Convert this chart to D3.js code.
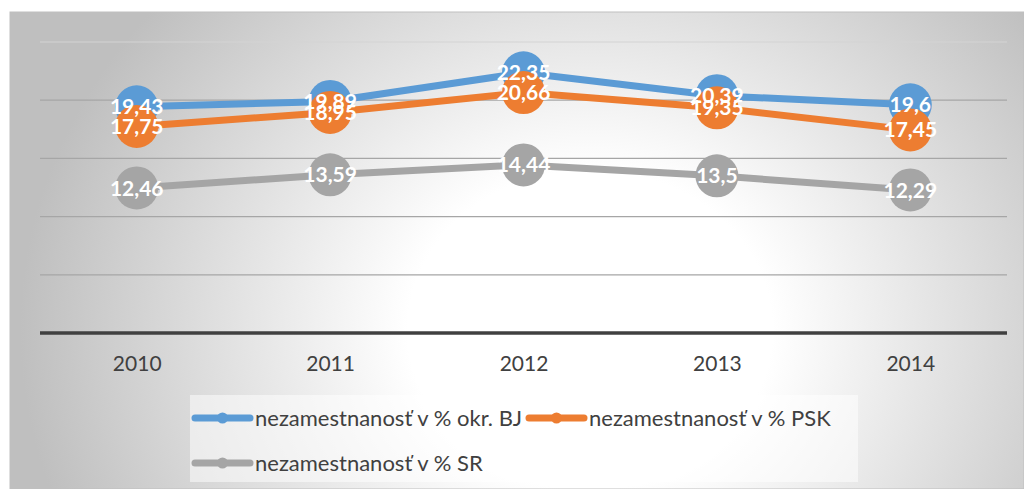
<!DOCTYPE html>
<html>
<head>
<meta charset="utf-8">
<script src="https://cdn.jsdelivr.net/npm/d3@7"></script>
<style>
  body { margin: 0; background: #fff; }
  svg text { font-family: Lato, "Open Sans", sans-serif; }
</style>
</head>
<body>
<div id="chart"></div>
<script>
let years = ['2010', '2011', '2012', '2013', '2014'];
let okrBJ = [19.43, 19.89, 22.35, 20.39, 19.6];
let psk = [17.75, 18.95, 20.66, 19.35, 17.45];
let sr = [12.46, 13.59, 14.44, 13.5, 12.29];
let yTicks = [0, 5, 10, 15, 20, 25];

let seriesNames = ['nezamestnanosť v % okr. BJ', 'nezamestnanosť v % PSK', 'nezamestnanosť v % SR'];
let colors = ['#5b9bd5', '#ed7d31', '#a5a5a5'];

let W = 1024, H = 489;
let margin = {top: 42, right: 17, bottom: 156, left: 40};
let width = W - margin.left - margin.right;
let height = H - margin.top - margin.bottom;

let svg = d3.select('#chart')
    .append('svg')
    .attr('width', W)
    .attr('height', H);

// radial background like the office chart fill
let defs = svg.append('defs');
let grad = defs.append('radialGradient')
    .attr('id', 'bg')
    .attr('gradientUnits', 'userSpaceOnUse')
    .attr('cx', 0).attr('cy', 0).attr('r', 1)
    .attr('gradientTransform', 'translate(590,330) scale(570,500)');
grad.append('stop').attr('offset', '0%').attr('stop-color', '#ffffff');
grad.append('stop').attr('offset', '32%').attr('stop-color', '#ffffff');
grad.append('stop').attr('offset', '100%').attr('stop-color', '#bfbfbf');

svg.append('rect')
    .attr('x', 10).attr('y', 12)
    .attr('width', W - 10).attr('height', 477)
    .attr('fill', 'url(#bg)')
    .attr('stroke', '#bfbfbf')
    .attr('stroke-width', 1);

let g = svg.append('g')
    .attr('transform', 'translate(' + margin.left + ',' + margin.top + ')');

let xScale = d3.scalePoint()
    .domain(years)
    .range([0, width])
    .padding(0.5);

let yScale = d3.scaleLinear()
    .domain([0, 25])
    .range([height, 0]);

// gridlines
g.selectAll('.grid')
    .data(yTicks.filter(function (d) { return d > 0; }))
    .enter()
    .append('line')
    .attr('x1', 0).attr('x2', width)
    .attr('y1', function (d) { return yScale(d); })
    .attr('y2', function (d) { return yScale(d); })
    .attr('stroke', function (d) { return d === 25 ? '#d4d4d4' : '#a6a6a6'; })
    .attr('stroke-width', 1.2);

// x axis
let xAxis = d3.axisBottom(xScale).tickSize(0).tickPadding(23);
let xg = g.append('g')
    .attr('transform', 'translate(0,' + height + ')')
    .call(xAxis);
xg.select('.domain').remove();
xg.append('line')
    .attr('x1', 0).attr('x2', width)
    .attr('stroke', '#404040').attr('stroke-width', 3.5);
xg.selectAll('.tick text')
    .attr('font-size', 21)
    .attr('fill', '#404040')
    .attr('font-family', 'Lato, sans-serif');

let allSeries = [okrBJ, psk, sr];

let line = d3.line()
    .x(function (d, i) { return xScale(years[i]); })
    .y(function (d) { return yScale(d); });

allSeries.forEach(function (values, s) {
    g.append('path')
        .datum(values)
        .attr('fill', 'none')
        .attr('stroke', colors[s])
        .attr('stroke-width', 7)
        .attr('stroke-linejoin', 'round')
        .attr('d', line);

    g.selectAll('.m' + s)
        .data(values)
        .enter()
        .append('circle')
        .attr('cx', function (d, i) { return xScale(years[i]); })
        .attr('cy', function (d) { return yScale(d); })
        .attr('r', 21.5)
        .attr('fill', colors[s]);
});

// data labels on top
allSeries.forEach(function (values, s) {
    g.selectAll('.l' + s)
        .data(values)
        .enter()
        .append('text')
        .attr('x', function (d, i) { return xScale(years[i]); })
        .attr('y', function (d) { return yScale(d); })
        .attr('dy', '0.36em')
        .attr('text-anchor', 'middle')
        .attr('font-size', 21)
        .attr('font-weight', 'bold')
        .attr('fill', '#fff')
        .text(function (d) { return String(d).replace('.', ','); });
});

// legend
let legend = svg.append('g');
legend.append('rect')
    .attr('x', 190).attr('y', 395)
    .attr('width', 668).attr('height', 87)
    .attr('fill', '#ffffff').attr('fill-opacity', 0.5);

let legendPos = [[195, 418], [529, 418], [195, 463]];
seriesNames.forEach(function (name, s) {
    let p = legendPos[s];
    let item = legend.append('g')
        .attr('transform', 'translate(' + p[0] + ',' + p[1] + ')');
    item.append('line')
        .attr('x1', 0).attr('x2', 55)
        .attr('stroke', colors[s]).attr('stroke-width', 7)
        .attr('stroke-linecap', 'round');
    item.append('circle')
        .attr('cx', 27.5).attr('r', 5.5)
        .attr('fill', colors[s]);
    item.append('text')
        .attr('x', 60)
        .attr('dy', '0.36em')
        .attr('font-size', 22)
        .attr('fill', '#404040')
        .text(name);
});
</script>
</body>
</html>
